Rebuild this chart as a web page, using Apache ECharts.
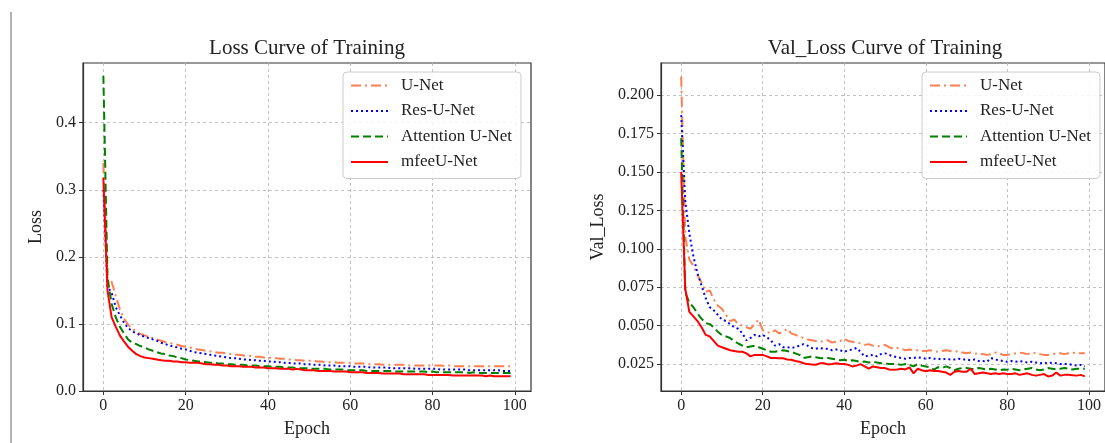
<!DOCTYPE html>
<html>
<head>
<meta charset="utf-8">
<script src="https://cdn.jsdelivr.net/npm/echarts@6/dist/echarts.min.js"></script>
<style>
html,body{margin:0;padding:0;background:#fff;}
#chart{width:1105px;height:443px;}
</style>
</head>
<body>
<div id="chart"></div>
<script>
// ---- data ----
const seriesNames = ['U-Net', 'Res-U-Net', 'Attention U-Net', 'mfeeU-Net'];
const xTicks = [0, 20, 40, 60, 80, 100];
const lossTicks = [0.0, 0.1, 0.2, 0.3, 0.4];
const valTicks = [0.025, 0.050, 0.075, 0.100, 0.125, 0.150, 0.175, 0.200];

const trainUnet = [
0.340,0.168,0.163,0.142,0.122,0.108,0.099,0.093,0.089,0.085,
0.083,0.081,0.079,0.077,0.075,0.073,0.072,0.070,0.069,0.067,
0.066,0.065,0.063,0.062,0.061,0.060,0.059,0.058,0.057,0.057,
0.056,0.055,0.054,0.054,0.053,0.052,0.052,0.051,0.051,0.050,
0.050,0.049,0.049,0.048,0.048,0.047,0.047,0.046,0.046,0.045,
0.045,0.045,0.044,0.044,0.043,0.043,0.043,0.042,0.042,0.042,
0.042,0.041,0.041,0.041,0.040,0.040,0.040,0.040,0.039,0.039,
0.039,0.039,0.039,0.039,0.038,0.038,0.038,0.038,0.038,0.038,
0.038,0.038,0.038,0.037,0.038,0.037,0.037,0.037,0.037,0.037,
0.037,0.037,0.037,0.037,0.037,0.037,0.037,0.037,0.037,0.037];

const trainRes = [
0.300,0.155,0.147,0.125,0.113,0.102,0.094,0.089,0.086,0.083,
0.081,0.079,0.077,0.075,0.072,0.070,0.068,0.066,0.065,0.063,
0.062,0.060,0.058,0.057,0.056,0.055,0.054,0.053,0.052,0.051,
0.050,0.049,0.049,0.048,0.047,0.047,0.046,0.046,0.045,0.045,
0.044,0.044,0.043,0.043,0.042,0.042,0.041,0.041,0.041,0.040,
0.040,0.039,0.039,0.039,0.038,0.038,0.038,0.037,0.037,0.037,
0.037,0.036,0.036,0.036,0.036,0.035,0.035,0.035,0.035,0.035,
0.034,0.034,0.034,0.034,0.034,0.034,0.033,0.033,0.033,0.033,
0.033,0.033,0.032,0.032,0.032,0.032,0.032,0.032,0.032,0.031,
0.031,0.031,0.031,0.031,0.031,0.031,0.031,0.030,0.030,0.030];

const trainAtt = [
0.470,0.170,0.130,0.110,0.096,0.086,0.077,0.072,0.070,0.067,
0.065,0.062,0.060,0.058,0.056,0.055,0.053,0.052,0.050,0.049,
0.047,0.046,0.045,0.044,0.044,0.043,0.042,0.042,0.041,0.041,
0.040,0.040,0.039,0.039,0.039,0.038,0.038,0.038,0.037,0.037,
0.037,0.036,0.036,0.036,0.035,0.035,0.035,0.034,0.034,0.034,
0.034,0.033,0.033,0.033,0.033,0.032,0.032,0.032,0.032,0.031,
0.031,0.031,0.031,0.031,0.030,0.030,0.030,0.030,0.030,0.030,
0.030,0.029,0.029,0.029,0.029,0.029,0.029,0.029,0.029,0.028,
0.029,0.028,0.028,0.028,0.028,0.028,0.028,0.028,0.028,0.027,
0.028,0.027,0.027,0.027,0.027,0.027,0.027,0.027,0.027,0.027];

const trainMfee = [
0.318,0.150,0.110,0.096,0.083,0.074,0.066,0.060,0.055,0.052,
0.050,0.049,0.048,0.047,0.046,0.045,0.045,0.044,0.044,0.043,
0.043,0.042,0.042,0.042,0.041,0.040,0.040,0.039,0.039,0.038,
0.038,0.037,0.037,0.037,0.036,0.036,0.036,0.035,0.035,0.035,
0.034,0.034,0.034,0.033,0.033,0.033,0.032,0.033,0.032,0.031,
0.031,0.031,0.030,0.030,0.030,0.030,0.029,0.029,0.029,0.029,
0.028,0.028,0.028,0.028,0.027,0.027,0.027,0.027,0.026,0.026,
0.026,0.026,0.026,0.025,0.025,0.025,0.025,0.025,0.025,0.024,
0.024,0.024,0.024,0.024,0.024,0.023,0.023,0.023,0.023,0.023,
0.023,0.023,0.023,0.022,0.023,0.022,0.022,0.022,0.022,0.022];

const valUnet = [
0.212,0.108,0.093,0.089,0.083,0.078,0.072,0.073,0.067,0.063,
0.061,0.057,0.053,0.054,0.051,0.050,0.049,0.048,0.051,0.054,
0.047,0.046,0.045,0.047,0.045,0.046,0.048,0.045,0.044,0.043,
0.042,0.041,0.0405,0.040,0.0395,0.040,0.0405,0.039,0.0395,0.040,
0.0415,0.040,0.0395,0.039,0.0385,0.0375,0.038,0.037,0.0365,0.037,
0.0375,0.036,0.035,0.0355,0.035,0.034,0.0345,0.034,0.034,0.0335,
0.0335,0.034,0.0335,0.033,0.0335,0.034,0.0335,0.033,0.0335,0.0325,
0.032,0.0325,0.032,0.0315,0.0315,0.031,0.0315,0.0325,0.032,0.031,
0.031,0.0315,0.032,0.0325,0.032,0.0315,0.0325,0.032,0.0315,0.031,
0.031,0.0315,0.032,0.032,0.0315,0.032,0.0325,0.032,0.032,0.032];

const valRes = [
0.187,0.131,0.110,0.095,0.084,0.076,0.068,0.062,0.060,0.057,
0.054,0.053,0.051,0.049,0.048,0.045,0.0405,0.042,0.044,0.043,
0.044,0.0425,0.0405,0.037,0.038,0.036,0.036,0.0355,0.036,0.037,
0.038,0.037,0.0355,0.035,0.0355,0.035,0.035,0.034,0.0345,0.034,
0.033,0.034,0.0345,0.0355,0.033,0.030,0.0305,0.031,0.030,0.0315,
0.032,0.031,0.030,0.0295,0.029,0.0285,0.029,0.029,0.0295,0.029,
0.0285,0.029,0.0285,0.0285,0.028,0.0285,0.028,0.028,0.0285,0.028,
0.028,0.0275,0.028,0.027,0.027,0.0265,0.029,0.028,0.0275,0.027,
0.0265,0.027,0.0265,0.027,0.0265,0.026,0.0265,0.026,0.0255,0.026,
0.0255,0.026,0.0255,0.025,0.025,0.025,0.0245,0.024,0.0245,0.0235];

const valAtt = [
0.172,0.0715,0.065,0.062,0.058,0.0545,0.0517,0.051,0.049,0.046,
0.0438,0.043,0.042,0.040,0.0384,0.037,0.036,0.0365,0.037,0.036,
0.035,0.034,0.033,0.033,0.0335,0.034,0.0335,0.033,0.032,0.031,
0.029,0.0295,0.030,0.0295,0.029,0.0288,0.029,0.0285,0.028,0.0275,
0.0278,0.027,0.0275,0.027,0.0265,0.0267,0.026,0.0265,0.026,0.0255,
0.0256,0.025,0.025,0.025,0.0245,0.025,0.0245,0.0235,0.025,0.024,
0.0235,0.023,0.0214,0.023,0.0225,0.0235,0.0225,0.021,0.022,0.0225,
0.0224,0.022,0.0215,0.0225,0.022,0.0214,0.022,0.0215,0.021,0.0215,
0.0214,0.022,0.0215,0.021,0.0215,0.022,0.0225,0.0215,0.021,0.0215,
0.0224,0.022,0.0215,0.022,0.0225,0.022,0.0215,0.022,0.022,0.022];

const valMfee = [
0.150,0.074,0.059,0.056,0.053,0.049,0.044,0.043,0.040,0.037,
0.036,0.035,0.034,0.0335,0.033,0.033,0.032,0.030,0.031,0.031,
0.031,0.030,0.029,0.029,0.0288,0.0288,0.028,0.0278,0.027,0.0265,
0.0256,0.025,0.0248,0.0246,0.0255,0.0256,0.0248,0.025,0.0255,0.025,
0.025,0.0245,0.0235,0.024,0.025,0.0235,0.022,0.0235,0.023,0.0225,
0.0224,0.0215,0.0214,0.0215,0.022,0.0215,0.0229,0.019,0.022,0.021,
0.0203,0.021,0.0205,0.0205,0.020,0.0195,0.018,0.020,0.0205,0.020,
0.020,0.022,0.0185,0.019,0.0195,0.019,0.0185,0.019,0.0185,0.019,
0.0186,0.0185,0.019,0.018,0.0185,0.019,0.018,0.0175,0.018,0.0185,
0.017,0.0175,0.0195,0.0175,0.018,0.018,0.0178,0.0175,0.018,0.017];

// ---- chart ----
const FONT = '"Liberation Serif", "Times New Roman", serif';
const colors = ['#FF7F50', '#0000FF', '#008000', '#FF0000'];
const dashes = [[10, 4, 2, 4], [2, 3], [8, 4], 'solid'];

function toXY(arr) { return arr.map((v, i) => [i, v]); }

function xAxisCfg(gridIndex) {
  return {
    gridIndex, type: 'value', min: -4.95, max: 103.95,
    name: 'Epoch', nameLocation: 'middle', nameGap: 29,
    nameTextStyle: { fontFamily: FONT, fontSize: 18, color: '#222' },
    axisLine: { show: true, onZero: false, lineStyle: { color: '#333', width: 1.2 } },
    axisTick: { show: true, length: 4, customValues: xTicks, lineStyle: { color: '#333' } },
    axisLabel: { customValues: xTicks, fontFamily: FONT, fontSize: 16, color: '#222', margin: 7 },
    splitLine: { show: true, lineStyle: { color: '#bbb', type: [3, 3], width: 0.9 } }
  };
}
function yAxisCfg(gridIndex, name, min, max, ticks, digits, gap) {
  return {
    gridIndex, type: 'value', min, max,
    name, nameLocation: 'middle', nameGap: gap,
    nameTextStyle: { fontFamily: FONT, fontSize: 18, color: '#222' },
    axisLine: { show: true, onZero: false, lineStyle: { color: '#333', width: 1.2 } },
    axisTick: { show: true, length: 4, customValues: ticks, lineStyle: { color: '#333' } },
    axisLabel: { customValues: ticks, fontFamily: FONT, fontSize: 16, color: '#222', margin: 7,
      formatter: v => Number(v).toFixed(digits) },
    splitLine: { show: true, lineStyle: { color: '#bbb', type: [3, 3], width: 0.9 } }
  };
}

const trainSets = [trainUnet, trainRes, trainAtt, trainMfee];
const valSets = [valUnet, valRes, valAtt, valMfee];
const series = [];
[trainSets, valSets].forEach((sets, gi) => {
  sets.forEach((arr, k) => {
    series.push({
      name: seriesNames[k], type: 'line', xAxisIndex: gi, yAxisIndex: gi,
      data: toXY(arr), showSymbol: false, symbol: 'none', smooth: false,
      lineStyle: { color: colors[k], width: 2, type: dashes[k] },
      itemStyle: { color: colors[k] }, z: 3 + k, animation: false
    });
  });
});

function legendCfg(left) {
  return {
    left, top: 72, orient: 'vertical', data: seriesNames,
    itemWidth: 37, itemHeight: 14, itemGap: 8.5,
    padding: [5, 9, 8, 7],
    itemStyle: { opacity: 0 },
    backgroundColor: 'rgba(255,255,255,0.85)', borderColor: '#ccc', borderWidth: 1, borderRadius: 4,
    textStyle: { fontFamily: FONT, fontSize: 17, color: '#222', padding: [0, 0, 0, 8], lineHeight: 17 },
    selectedMode: false
  };
}

const chart = echarts.init(document.getElementById('chart'), null, { renderer: 'canvas' });
chart.setOption({
  backgroundColor: '#fff',
  animation: false,
  grid: [
    { left: 83, top: 63, width: 448, height: 334, show: true, borderColor: '#333', borderWidth: 1.2, containLabel: false },
    { left: 661, top: 63, width: 448, height: 334, show: true, borderColor: '#333', borderWidth: 1.2, containLabel: false }
  ],
  xAxis: [xAxisCfg(0), xAxisCfg(1)],
  yAxis: [
    yAxisCfg(0, 'Loss', 0, 0.489, lossTicks, 1, 38),
    yAxisCfg(1, 'Val_Loss', 0.0075, 0.2209, valTicks, 3, 54)
  ],
  legend: [legendCfg(343), legendCfg(922)],
  graphic: [
    { type: 'text', x: 307, y: 48, style: { text: 'Loss Curve of Training', font: '21px ' + FONT, fill: '#222', textAlign: 'center', textVerticalAlign: 'middle' } },
    { type: 'text', x: 885, y: 48, style: { text: 'Val_Loss Curve of Training', font: '21px ' + FONT, fill: '#222', textAlign: 'center', textVerticalAlign: 'middle' } },
    { type: 'line', shape: { x1: 11, y1: 12, x2: 11, y2: 443 }, style: { stroke: '#666', lineWidth: 1 } }
  ],
  series
});
</script>
</body>
</html>
